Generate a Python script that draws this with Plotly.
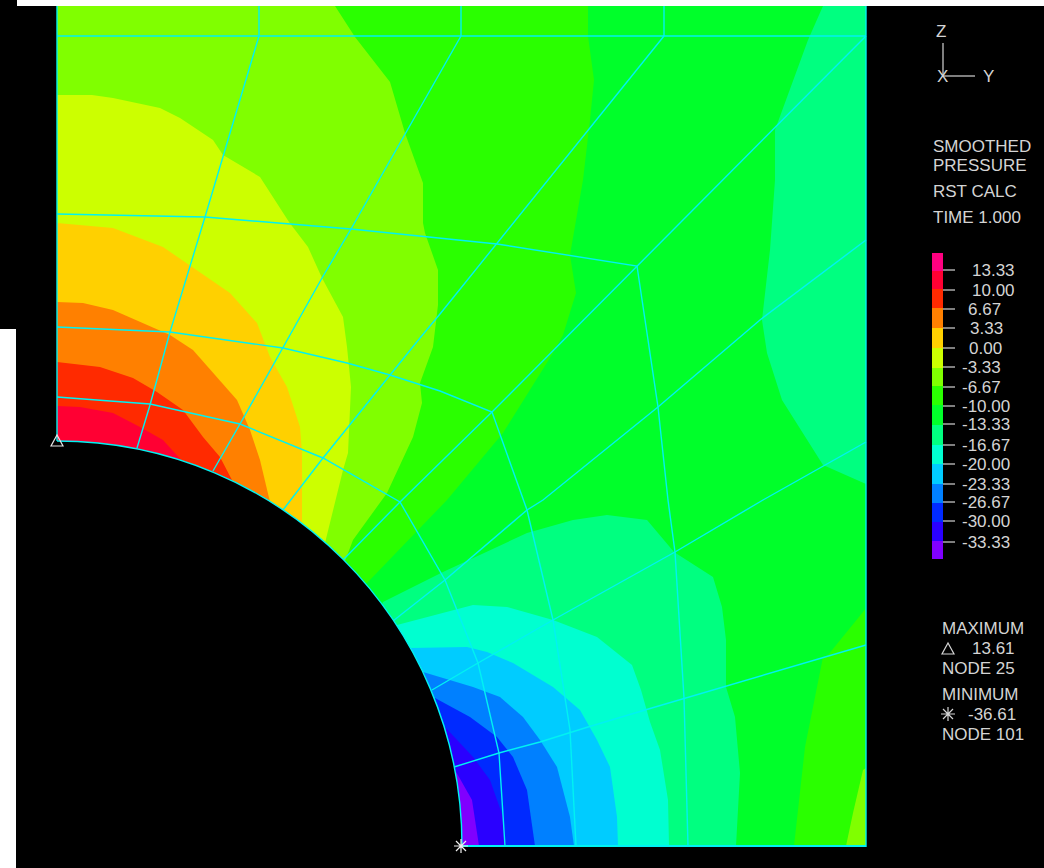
import plotly.graph_objects as go

W, H = 1044, 868

# ---- colour bands, top of legend to bottom ----
LEVEL_LABELS = ["13.33", "10.00", "6.67", "3.33", "0.00", "-3.33", "-6.67", "-10.00", "-13.33",
                "-16.67", "-20.00", "-23.33", "-26.67", "-30.00", "-33.33"]
BAND_COLOURS = ["#ff0080", "#ff0033", "#ff2a00", "#ff8000", "#ffd000", "#ccff00", "#80ff00", "#2aff00",
                "#00ff2a", "#00ff80", "#00ffd0", "#00ccff", "#0080ff", "#002aff", "#2a00ff", "#8000ff"]
BAND_EDGES = [253, 271, 289, 308, 328, 348, 368, 386, 405, 425, 445, 464, 484, 503, 522, 541, 559]
TICK_Y = [270, 290, 309, 328, 348, 367, 387, 406, 424, 445, 464, 484, 502, 521, 542]
LABEL_Y = [272, 292, 311, 330, 350, 369, 389, 408, 426, 447, 466, 486, 504, 523, 544]
LABEL_X = [972, 972, 968, 970, 969, 962, 962, 962, 962, 962, 962, 962, 962, 962, 962]

# ---- contour regions, painted back to front on the #00ff2a plate ----
PLATE_X = [57, 866, 866, 57]
PLATE_Y = [6, 6, 846, 846]

R_00ff80_X = [823, 808, 775, 775, 770, 762, 767, 782, 823, 866, 866]
R_00ff80_Y = [6, 40, 130, 180, 250, 320, 353, 400, 465, 484, 6]

BR_2aff00_X = [866, 863, 828, 823, 805, 794, 866]
BR_2aff00_Y = [608, 612, 655, 657, 747, 846, 846]
BR_80ff00_X = [866, 863, 853, 846, 866]
BR_80ff00_Y = [768, 770, 813, 846, 846]

# lower (blue side) nested regions
B_00ff80_X = [383, 443, 527, 573, 607, 640, 647, 674, 713, 722, 726, 726, 735, 740, 736, 300]
B_00ff80_Y = [602, 572, 533, 520, 515, 519, 520, 552, 577, 607, 640, 687, 717, 773, 846, 846]
B_00ffd0_X = [397, 453, 473, 507, 553, 597, 632, 641, 650, 660, 668, 669, 300]
B_00ffd0_Y = [625, 610, 605, 607, 620, 637, 665, 690, 722, 750, 800, 846, 846]
B_00ccff_X = [410, 467, 487, 513, 553, 580, 597, 610, 617, 618, 300]
B_00ccff_Y = [648, 647, 652, 663, 687, 710, 740, 767, 817, 846, 846]
B_0080ff_X = [423, 473, 500, 523, 540, 557, 570, 574, 300]
B_0080ff_Y = [672, 687, 697, 717, 740, 767, 817, 846, 846]
B_002aff_X = [435, 470, 497, 513, 527, 535, 300]
B_002aff_Y = [698, 717, 737, 757, 790, 846, 846]
B_2a00ff_X = [445, 473, 490, 503, 506, 300]
B_2a00ff_Y = [727, 757, 780, 817, 846, 846]
B_8000ff_X = [455, 472, 479, 300]
B_8000ff_Y = [770, 800, 846, 846]

# upper (red side) nested regions
T_2aff00_X = [588, 588, 594, 590, 583, 570, 576, 563, 553, 503, 447, 367, 57, 57]
T_2aff00_Y = [6, 36, 80, 120, 180, 255, 293, 335, 353, 433, 500, 583, 700, 6]
T_80ff00_X = [335, 355, 390, 405, 423, 423, 425, 438, 438, 435, 433, 420, 422, 413, 387, 353, 345, 57, 57]
T_80ff00_Y = [6, 37, 82, 133, 183, 223, 233, 270, 305, 330, 347, 383, 403, 437, 493, 540, 561, 700, 6]
T_ccff00_X = [57, 92, 113, 160, 180, 213, 223, 260, 289, 308, 322, 343, 347, 351, 348, 343, 325, 57]
T_ccff00_Y = [95, 95, 98, 108, 118, 140, 155, 177, 222, 247, 278, 317, 347, 387, 453, 470, 543, 700]
T_ffd000_X = [57, 113, 163, 192, 230, 257, 270, 287, 300, 302, 302, 57]
T_ffd000_Y = [223, 228, 247, 267, 293, 323, 357, 387, 427, 453, 524, 700]
T_ff8000_X = [57, 83, 113, 143, 170, 193, 217, 237, 250, 260, 270, 57]
T_ff8000_Y = [302, 303, 310, 323, 335, 350, 377, 400, 430, 460, 502, 700]
T_ff2a00_X = [57, 100, 133, 157, 183, 203, 220, 233, 57]
T_ff2a00_Y = [362, 367, 378, 392, 410, 437, 457, 482, 700]
T_ff0033_X = [57, 80, 113, 140, 163, 182, 57]
T_ff0033_Y = [406, 407, 413, 427, 440, 461, 700]

REGIONS = [
    (PLATE_X, PLATE_Y, "#00ff2a"),
    (R_00ff80_X, R_00ff80_Y, "#00ff80"),
    (BR_2aff00_X, BR_2aff00_Y, "#2aff00"),
    (BR_80ff00_X, BR_80ff00_Y, "#80ff00"),
    (B_00ff80_X, B_00ff80_Y, "#00ff80"),
    (B_00ffd0_X, B_00ffd0_Y, "#00ffd0"),
    (B_00ccff_X, B_00ccff_Y, "#00ccff"),
    (B_0080ff_X, B_0080ff_Y, "#0080ff"),
    (B_002aff_X, B_002aff_Y, "#002aff"),
    (B_2a00ff_X, B_2a00ff_Y, "#2a00ff"),
    (B_8000ff_X, B_8000ff_Y, "#8000ff"),
    (T_2aff00_X, T_2aff00_Y, "#2aff00"),
    (T_80ff00_X, T_80ff00_Y, "#80ff00"),
    (T_ccff00_X, T_ccff00_Y, "#ccff00"),
    (T_ffd000_X, T_ffd000_Y, "#ffd000"),
    (T_ff8000_X, T_ff8000_Y, "#ff8000"),
    (T_ff2a00_X, T_ff2a00_Y, "#ff2a00"),
    (T_ff0033_X, T_ff0033_Y, "#ff0033"),
]

# ---- mesh ----
MESH = [
    ([57, 866], [36, 36]),
    ([259, 259], [6, 36]),
    ([461, 461], [6, 36]),
    ([664, 664], [6, 36]),
    # radial lines
    ([259, 224, 205, 170, 150, 137], [36, 155, 217, 332, 405, 448]),
    ([461, 420, 405, 351, 322, 283, 240, 213], [36, 108, 133, 229, 278, 348, 424, 471]),
    ([664, 497, 440, 420, 390, 323, 283], [36, 244, 314, 338, 375, 458, 510]),
    ([866, 637, 492, 400, 343], [36, 266, 412, 502, 560]),
    ([866, 760, 658, 543, 527, 445, 393], [240, 320, 407, 500, 510, 580, 621]),
    ([866, 825, 763, 675, 553, 478, 432], [442, 465, 500, 552, 620, 663, 690]),
    ([866, 684, 645, 588, 540, 499, 454], [645, 698, 710, 727, 742, 753, 767]),
    # circumferential lines
    ([57, 150, 240, 323, 400, 445, 478, 499, 505], [397, 404, 424, 458, 502, 580, 663, 753, 846]),
    ([57, 170, 283, 347, 390, 440, 492, 527, 553, 570, 576], [327, 332, 348, 363, 375, 391, 412, 510, 620, 730, 846]),
    ([57, 205, 351, 420, 497, 637, 658, 668, 675, 684, 688], [214, 217, 229, 236, 244, 266, 407, 500, 552, 698, 846]),
]

# ---- hole and decoration geometry ----
HOLE_CX, HOLE_CY, HOLE_R = 57, 846, 405

TRIAD_X = [943, 943, None, 943, 975]
TRIAD_Y = [43, 76, None, 76, 76]

TEXTS = [
    ("Z", 936, 33), ("X", 937, 78), ("Y", 983, 78),
    ("SMOOTHED", 933, 148), ("PRESSURE", 933, 167), ("RST CALC", 933, 193), ("TIME 1.000", 933, 219),
    ("MAXIMUM", 942, 630), ("13.61", 972, 650), ("NODE 25", 942, 670),
    ("MINIMUM", 942, 696), ("-36.61", 968, 716), ("NODE 101", 942, 736),
]

TEXT_COL = "#d4d4d4"
LINE_COL = "#00f2f2"
MESH_W = 1.4
FONT = dict(family="Liberation Sans", size=17, color=TEXT_COL)

fig = go.Figure()

for xs, ys, col in REGIONS:
    fig.add_trace(go.Scatter(x=xs, y=ys, mode="lines", fill="toself", fillcolor=col,
                             line=dict(width=0, color=col), hoverinfo="skip"))

for xs, ys in MESH:
    fig.add_trace(go.Scatter(x=xs, y=ys, mode="lines", line=dict(color=LINE_COL, width=MESH_W), hoverinfo="skip"))

# legend bar
for i, col in enumerate(BAND_COLOURS):
    fig.add_trace(go.Bar(x=[937.5], y=[BAND_EDGES[i + 1] - BAND_EDGES[i]], base=[BAND_EDGES[i]],
                         width=[11], marker=dict(color=col, line=dict(width=0)), hoverinfo="skip"))

# legend ticks and labels
tx, ty = [], []
for y in TICK_Y:
    tx += [943, 955, None]
    ty += [y, y, None]
fig.add_trace(go.Scatter(x=tx, y=ty, mode="lines", line=dict(color=TEXT_COL, width=1.2), hoverinfo="skip"))
fig.add_trace(go.Scatter(x=LABEL_X, y=LABEL_Y, mode="text", text=LEVEL_LABELS, textposition="middle right",
                         textfont=FONT, hoverinfo="skip", cliponaxis=False))
fig.add_trace(go.Scatter(x=TRIAD_X, y=TRIAD_Y, mode="lines", line=dict(color=TEXT_COL, width=1.2), hoverinfo="skip"))
fig.add_trace(go.Scatter(x=[t[1] for t in TEXTS], y=[t[2] for t in TEXTS], mode="text",
                         text=[t[0] for t in TEXTS], textposition="middle right", textfont=FONT,
                         hoverinfo="skip", cliponaxis=False))

k = 0.5523 * HOLE_R
arc = (f"M {HOLE_CX},{HOLE_CY - HOLE_R} "
       f"C {HOLE_CX + k},{HOLE_CY - HOLE_R} {HOLE_CX + HOLE_R},{HOLE_CY - k} {HOLE_CX + HOLE_R},{HOLE_CY}")


def tri(cx, cy):
    return f"M {cx - 6},{cy + 5} L {cx + 6},{cy + 5} L {cx},{cy - 6} Z"


def star(cx, cy, r=7, d=5):
    return (f"M {cx - r},{cy} L {cx + r},{cy} M {cx},{cy - r} L {cx},{cy + r} "
            f"M {cx - d},{cy - d} L {cx + d},{cy + d} M {cx - d},{cy + d} L {cx + d},{cy - d}")


shapes = [
    dict(type="rect", x0=17, x1=W, y0=0, y1=6, fillcolor="white", line_width=0, layer="below"),
    dict(type="rect", x0=0, x1=16, y0=329, y1=H, fillcolor="white", line_width=0, layer="below"),
    dict(type="path", path=arc + f" L {HOLE_CX},{HOLE_CY} Z", fillcolor="black", line_width=0, layer="above"),
    dict(type="path", path=arc, line=dict(color=LINE_COL, width=MESH_W), layer="above"),
    dict(type="line", x0=57, x1=57, y0=6, y1=441, line=dict(color=LINE_COL, width=MESH_W), layer="above"),
    dict(type="line", x0=866, x1=866, y0=6, y1=847, line=dict(color=LINE_COL, width=MESH_W), layer="above"),
    dict(type="line", x0=461, x1=866, y0=846, y1=846, line=dict(color=LINE_COL, width=1.8), layer="above"),
    dict(type="path", path=tri(57, 441), line=dict(color="#e6e6e6", width=1.2), layer="above"),
    dict(type="path", path=star(461, 846), line=dict(color="#f0f0f0", width=1.2), layer="above"),
    dict(type="path", path=tri(948, 649), line=dict(color=TEXT_COL, width=1.2), layer="above"),
    dict(type="path", path=star(948, 714), line=dict(color=TEXT_COL, width=1.2), layer="above"),
]

fig.update_layout(
    width=W, height=H, margin=dict(l=0, r=0, t=0, b=0, pad=0), showlegend=False,
    paper_bgcolor="black", plot_bgcolor="black", barmode="overlay",
    xaxis=dict(range=[0, W], visible=False, fixedrange=True),
    yaxis=dict(range=[H, 0], visible=False, fixedrange=True),
    shapes=shapes,
)

fig.write_html("out.html", config=dict(displayModeBar=False, responsive=False),
               post_script="document.body.style.margin='0';document.body.style.overflow='hidden';document.body.style.background='black';")
